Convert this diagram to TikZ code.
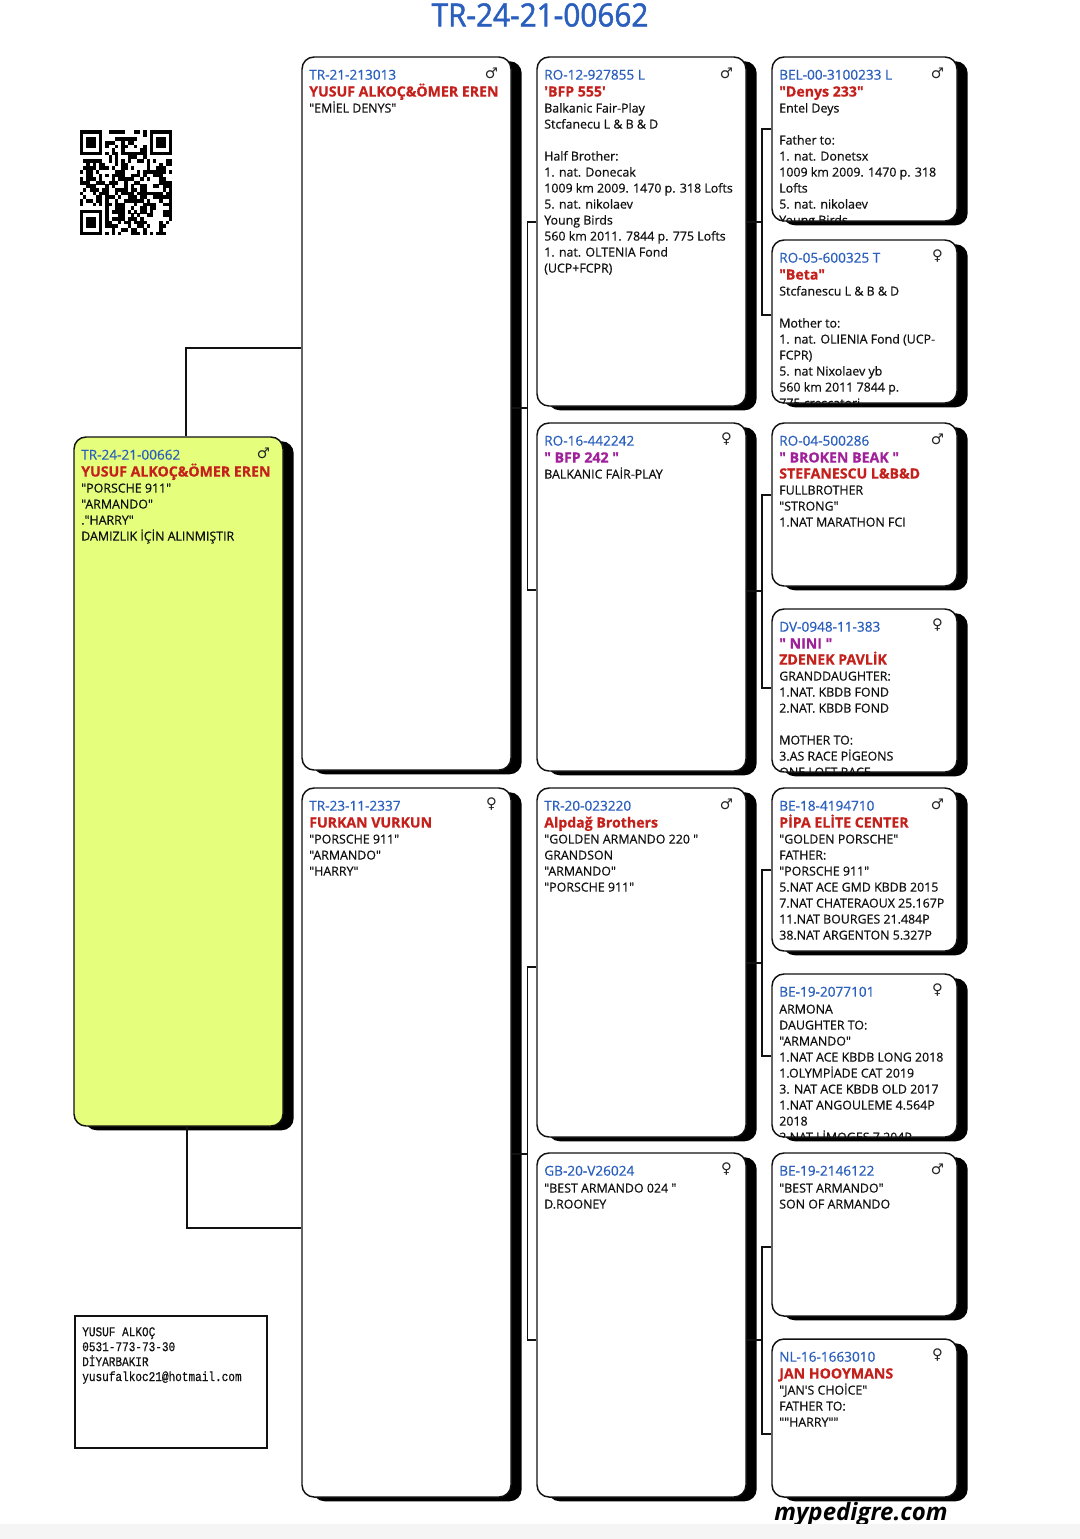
\documentclass[tikz,border=0pt]{standalone}
\usepackage{fontspec}
\usetikzlibrary{shadows,calc}
\newfontfamily\tf[FakeBold=0.6]{Open Sans}
\newfontfamily\titlef[FakeStretch=0.93,FakeBold=1.6]{Open Sans}
\newfontfamily\brandf{Open Sans}
\newfontfamily\symf{DejaVu Sans}
\newfontfamily\monof[FakeStretch=0.83,FakeBold=0.4]{Liberation Mono}
\definecolor{idblue}{HTML}{2B5FBE}
\definecolor{redn}{HTML}{C4201C}
\definecolor{mag}{HTML}{A0209A}
\definecolor{lime}{HTML}{E5FF7C}
\definecolor{ink}{HTML}{111111}
\definecolor{strip}{HTML}{F5F5F5}
\newcommand{\idl}[1]{{\fontsize{10.2}{12}\selectfont\textcolor{idblue}{#1}}\\[.7pt]}
\newcommand{\rn}[1]{{\fontsize{10.6}{12}\selectfont\bfseries\textcolor{redn}{#1}}}
\newcommand{\mg}[1]{{\fontsize{10.6}{12}\selectfont\bfseries\textcolor{mag}{#1}}}
\newcommand{\malesym}{♂}
\newcommand{\femalesym}{♀}
\tikzset{
  pbox/.style={draw=ink,line width=1.1pt,rounded corners=9pt,inner sep=0pt,fill=white,
    general shadow={shadow xshift=8pt,shadow yshift=-3.2pt,fill=black}},
  ptext/.style={anchor=north west,inner sep=0pt,align=left,text=ink,
    font=\tf\fontsize{9.3}{12}\selectfont},
  psym/.style={inner sep=0pt,text=black!85,font=\symf\fontsize{11}{11}\selectfont},
  link/.style={draw=ink,line width=.85pt}
}
% name, x1, y1, x2, y2, fill, symbol, text
\newcommand{\pedbox}[8]{%
  \pgfmathsetmacro{\pcx}{(#2+#4)/2}\pgfmathsetmacro{\pcy}{(#3+#5)/2}%
  \pgfmathsetmacro{\pwd}{(#4-#2)*.75}\pgfmathsetmacro{\pht}{(#5-#3)*.75}%
  \node[pbox,fill=#6,minimum width=\pwd pt,minimum height=\pht pt] (#1) at (\pcx,\pcy) {};
  \begin{scope}
    \clip[rounded corners=9pt] (#1.north west) rectangle (#1.south east);
    \node[ptext] (#1text) at (#2+7,#3+12.5) {#8};
  \end{scope}
  \node[psym] (#1sym) at (#4-19.5,#3+16) {#7};
}
\begin{document}
\begin{tikzpicture}[x=.75pt,y=-.75pt]
\useasboundingbox (0,0) rectangle (1080,1539);
\fill[white] (0,0) rectangle (1080,1539);

\node[inner sep=0pt,text=idblue,font=\titlef\fontsize{24}{24}\selectfont] (title) at (540,15) {TR-24-21-00662};

% QR code
\pgfmathsetseed{21}
\begin{scope}[shift={(80,130)},x=2.38pt,y=-2.72pt]
  \foreach \r in {0,...,28}{\foreach \c in {0,...,28}{
    \pgfmathtruncatemacro{\skp}{((\r<8&&\c<8)||(\r<8&&\c>20)||(\r>20&&\c<8))?1:0}
    \pgfmathrandominteger{\v}{0}{99}
    \ifnum\skp=0 \ifnum\v<52 \fill[black] (\c,\r) rectangle ++(1.03,1.03);\fi\fi
  }}
  \foreach \a/\b in {0/0,22/0,0/22}{
    \fill[black] (\a,\b) rectangle ++(7,7);
    \fill[white] (\a+1,\b+1) rectangle ++(5,5);
    \fill[black] (\a+2,\b+2) rectangle ++(3,3);
  }
\end{scope}

\pedbox{root}{74}{437}{283}{1126}{lime}{\malesym}{\idl{TR-24-21-00662}\rn{YUSUF ALKOÇ\&ÖMER EREN}\\"PORSCHE 911"\\"ARMANDO"\\."HARRY"\\DAMIZLIK İÇİN ALINMIŞTIR}

\pedbox{a}{302}{57}{511}{770}{white}{\malesym}{\idl{TR-21-213013}\rn{YUSUF ALKOÇ\&ÖMER EREN}\\"EMİEL DENYS"}
\pedbox{b}{302}{788}{511}{1497}{white}{\femalesym}{\idl{TR-23-11-2337}\rn{FURKAN VURKUN}\\"PORSCHE 911"\\"ARMANDO"\\"HARRY"}

\pedbox{aa}{537}{57}{746}{406}{white}{\malesym}{\idl{RO-12-927855 L}\rn{'BFP 555'}\\Balkanic Fair-Play\\Stcfanecu L \& B \& D\\ \\Half Brother:\\1. nat. Donecak\\1009 km 2009. 1470 p. 318 Lofts\\5. nat. nikolaev\\Young Birds\\560 km 2011. 7844 p. 775 Lofts\\1. nat. OLTENIA Fond\\(UCP+FCPR)}
\pedbox{ab}{537}{423}{746}{771}{white}{\femalesym}{\idl{RO-16-442242}\mg{" BFP 242 "}\\BALKANIC FAİR-PLAY}
\pedbox{ba}{537}{788}{746}{1137}{white}{\malesym}{\idl{TR-20-023220}\rn{Alpdağ Brothers}\\"GOLDEN ARMANDO 220 "\\GRANDSON\\"ARMANDO"\\"PORSCHE 911"}
\pedbox{bb}{537}{1153}{746}{1497}{white}{\femalesym}{\idl{GB-20-V26024}"BEST ARMANDO 024 "\\D.ROONEY}

\pedbox{aaa}{772}{57}{957}{221}{white}{\malesym}{\idl{BEL-00-3100233 L}\rn{"Denys 233"}\\Entel Deys\\ \\Father to:\\1. nat. Donetsx\\1009 km 2009. 1470 p. 318\\Lofts\\5. nat. nikolaev\\Young Birds}
\pedbox{aab}{772}{240}{957}{403}{white}{\femalesym}{\idl{RO-05-600325 T}\rn{"Beta"}\\Stcfanescu L \& B \& D\\ \\Mother to:\\1. nat. OLIENIA Fond (UCP-\\FCPR)\\5. nat Nixolaev yb\\560 km 2011 7844 p.\\775 crescatori}
\pedbox{aba}{772}{423}{957}{586}{white}{\malesym}{\idl{RO-04-500286}\mg{" BROKEN BEAK "}\\\rn{STEFANESCU L\&B\&D}\\FULLBROTHER\\"STRONG"\\1.NAT MARATHON FCI}
\pedbox{abb}{772}{609}{957}{772}{white}{\femalesym}{\idl{DV-0948-11-383}\mg{" NINI "}\\\rn{ZDENEK PAVLİK}\\GRANDDAUGHTER:\\1.NAT. KBDB FOND\\2.NAT. KBDB FOND\\ \\MOTHER TO:\\3.AS RACE PİGEONS\\ONE LOFT RACE}
\pedbox{baa}{772}{788}{957}{951}{white}{\malesym}{\idl{BE-18-4194710}\rn{PİPA ELİTE CENTER}\\"GOLDEN PORSCHE"\\FATHER:\\"PORSCHE 911"\\5.NAT ACE GMD KBDB 2015\\7.NAT CHATERAOUX 25.167P\\11.NAT BOURGES 21.484P\\38.NAT ARGENTON 5.327P}
\pedbox{bab}{772}{974}{957}{1137}{white}{\femalesym}{\idl{BE-19-2077101}ARMONA\\DAUGHTER TO:\\"ARMANDO"\\1.NAT ACE KBDB LONG 2018\\1.OLYMPİADE CAT 2019\\3. NAT ACE KBDB OLD 2017\\1.NAT ANGOULEME 4.564P\\2018\\2.NAT LİMOGES 7.204P}
\pedbox{bba}{772}{1153}{957}{1316}{white}{\malesym}{\idl{BE-19-2146122}"BEST ARMANDO"\\SON OF ARMANDO}
\pedbox{bbb}{772}{1339}{957}{1497}{white}{\femalesym}{\idl{NL-16-1663010}\rn{JAN HOOYMANS}\\"JAN'S CHOİCE"\\FATHER TO:\\""HARRY""}

% contact box
\node[draw=ink,line width=1.3pt,fill=white,inner sep=0pt,minimum width=144pt,minimum height=99pt] (contact) at (171,1382) {};
\node[anchor=north west,inner sep=0pt,align=left,text=ink,font=\monof\fontsize{10}{11.2}\selectfont] (contacttext) at (82,1327) {YUSUF ALKOÇ\\0531-773-73-30\\DİYARBAKIR\\yusufalkoc21@hotmail.com};

% connectors
\coordinate (ja) at (186,348);
\coordinate (jb) at (187,1228);
\draw[link] ($(root.north)+(7.5,0)$) |- (a.west |- ja);
\draw[link] ($(root.south)+(8.5,0)$) |- (b.west |- jb);
\foreach \up/\dn/\prt/\x/\ya/\ym/\yb in {
  aa/ab/a/527.5/222/408/590,
  ba/bb/b/527.5/967/1154/1340,
  aaa/aab/aa/762/129/222/315,
  aba/abb/ab/762/495/591/688,
  baa/bab/ba/762/870/963/1056,
  bba/bbb/bb/762/1247/1340/1434}{
  \coordinate (t\up) at (\x,\ya);
  \coordinate (m\up) at (\x,\ym);
  \coordinate (e\up) at (\x,\yb);
  \draw[link] (\up.west |- t\up) -| (e\up) -- (\dn.west |- e\up);
  \draw[link] (\prt.east |- m\up) -- (m\up);
}

% footer
\node[inner sep=0pt,text=black,font=\brandf\bfseries\itshape\fontsize{18}{18}\selectfont] (brand) at (861,1514) {mypedigre.com};
\fill[strip] (0,1524) rectangle (1080,1539);
\end{tikzpicture}
\end{document}
